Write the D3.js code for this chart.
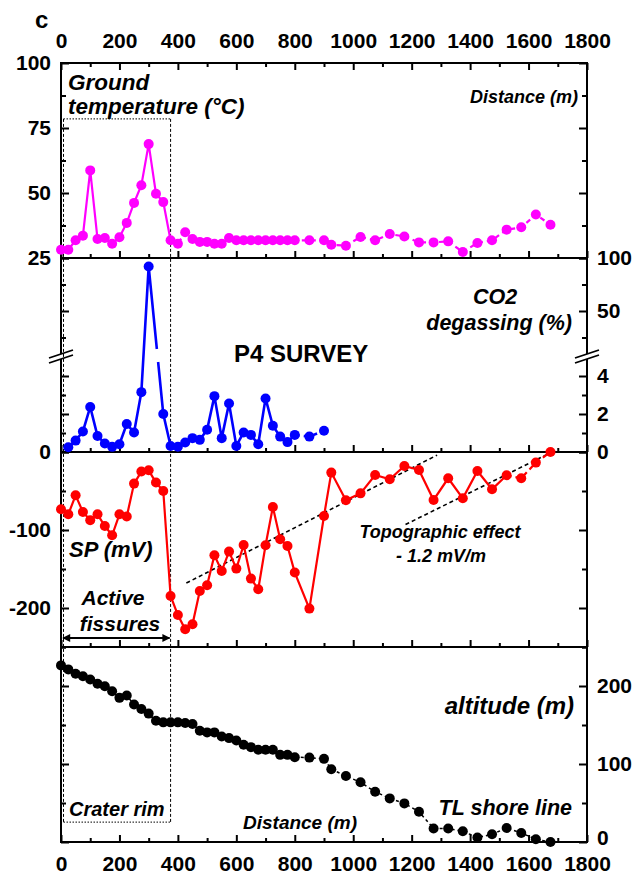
<!DOCTYPE html>
<html>
<head>
<meta charset="utf-8">
<style>
  body { margin: 0; background: #fff; }
  svg text { font-family: "Liberation Sans", Arial, sans-serif; font-weight: bold; fill: #000; }
  .it { font-style: italic; }
  .tick line { stroke: #000; stroke-width: 2; }
</style>
</head>
<body>
<script src="https://cdn.jsdelivr.net/npm/d3@7"></script>
<script>
// distances along the P4 profile (m)
var dist = [0, 25, 50, 75, 100, 125, 150, 175, 200, 225, 250, 275, 300, 325, 350, 375, 400,
  425, 450, 475, 500, 525, 550, 575, 600, 625, 650, 675, 700, 725, 750, 775, 800,
  850, 900, 925, 975, 1025, 1075, 1125, 1175, 1225, 1275, 1325, 1375, 1425, 1475, 1525, 1575, 1625, 1675];

// ground temperature (°C)
var temp = [28.2, 28.2, 31.8, 33.6, 58.7, 32.3, 32.7, 30.5, 33, 38.5, 46.2, 53, 68.8, 49.7, 46.5, 31.8, 30.5,
  34.9, 32.3, 31.2, 31.2, 30.5, 30.5, 32.7, 31.8, 31.8, 31.8, 31.8, 31.8, 31.8, 31.8, 31.8, 31.8,
  31.8, 31.8, 30.1, 29.7, 33.1, 31.8, 34.2, 33.3, 31, 31, 31.4, 27.3, 30.8, 31.8, 35.9, 36.8, 41.7, 37.8];

// CO2 degassing (%) - no station at 0 and 325 m, stops at 900 m
var co2Dist = [25, 50, 75, 100, 125, 150, 175, 200, 225, 250, 275, 300, 350, 375, 400,
  425, 450, 475, 500, 525, 550, 575, 600, 625, 650, 675, 700, 725, 750, 775, 800, 850, 900];
var co2 = [0.25, 0.6, 1.08, 2.37, 0.84, 0.45, 0.27, 0.41, 1.47, 1.03, 3.15, 92, 2.0, 0.32, 0.28,
  0.5, 0.73, 0.64, 1.17, 2.94, 0.73, 2.55, 0.32, 1.03, 0.9, 0.41, 2.82, 1.38, 0.81, 0.52, 0.9, 0.81, 1.12];

// self potential (mV)
var sp = [-73.5, -79.9, -55.5, -76.9, -87.6, -79.9, -94.9, -106.8, -79.9, -82.8, -40.5, -25.1, -23.5, -39.2, -50, -184.6, -209,
  -227.3, -220.9, -178.2, -170.9, -132.4, -152.6, -127.7, -149.5, -119.2, -162.3, -176, -119.6, -70.5, -111.9, -120.5, -154.6,
  -200.8, -82, -26.4, -61.9, -53, -29.5, -35, -17.9, -23.1, -61.5, -33.7, -59.4, -24.4, -47.8, -29.9, -33.7, -13.6, 0];

// altitude (m)
var alt = [226.4, 221.3, 215.7, 212.6, 208.4, 202.8, 199.7, 193.3, 184.8, 187.8, 176.2, 170.6, 164.6, 155.5, 153.4, 153.4, 153.4,
  152.6, 151.3, 142.7, 140.5, 140.5, 135.3, 133.2, 130.2, 124.6, 121.6, 118.2, 118.2, 118.2, 111.7, 111.7, 108.7,
  108.2, 106.6, 93.3, 84.7, 76.5, 64.4, 55.9, 49.5, 38.7, 17.3, 17.3, 13.8, 5.7, 9.9, 18, 11.6, 3.5, 0];

// topographic effect trend lines [distance, mV]
var topo1 = [[429, -168], [1287, -4]];
var topo2 = [[1179, -93], [1680, 0]];

var xMajor = [0, 200, 400, 600, 800, 1000, 1200, 1400, 1600, 1800];
var xMinor = [100, 300, 500, 700, 900, 1100, 1300, 1500, 1700];

var W = 637, H = 876;
var svg = d3.select("body").append("svg").attr("width", W).attr("height", H);

var x = d3.scaleLinear().domain([0, 1800]).range([61, 587]);
var yT = d3.scaleLinear().domain([25, 100]).range([258, 63]);
var yCLo = d3.scaleLinear().domain([0, 4]).range([452, 376]);
var yCHi = d3.scaleLinear().domain([50, 100]).range([311, 258]);
function yC(v) { return v > 6 ? yCHi(v) : yCLo(v); }
var yS = d3.scaleLinear().domain([-250, 0]).range([647, 452]);
var yA = d3.scaleLinear().domain([0, 250]).range([842, 647]);

var L = 61, R = 587, bounds = [63, 258, 452, 647, 842];

// ---- axes
function clean(g) { g.select(".domain").remove(); g.selectAll("text").style("font-size", "21px"); }

function xAxis(y, pos, labels) {
  var major = (pos == "top" ? d3.axisTop(x) : d3.axisBottom(x)).tickValues(xMajor).tickSize(-7)
    .tickPadding(pos == "top" ? 15 : 14).tickFormat(labels ? d3.format("d") : "");
  var minor = (pos == "top" ? d3.axisTop(x) : d3.axisBottom(x)).tickValues(xMinor).tickSize(-4).tickFormat("");
  svg.append("g").attr("transform", "translate(0," + y + ")").call(major).call(clean);
  svg.append("g").attr("transform", "translate(0," + y + ")").call(minor).call(clean);
}
xAxis(63, "top", true);
xAxis(258, "bottom", false);
xAxis(452, "bottom", false);
xAxis(647, "bottom", false);
xAxis(842, "bottom", true);

function yAxis(scale, majors, minors, labelsL, labelsR) {
  var gs = [];
  [["left", L, labelsL], ["right", R, labelsR]].forEach(function (s) {
    var mk = s[0] == "left" ? d3.axisLeft : d3.axisRight;
    gs.push(svg.append("g").attr("transform", "translate(" + s[1] + ",0)")
      .call(mk(scale).tickValues(majors).tickSize(-8).tickPadding(10)
        .tickFormat(function (d) { return s[2].indexOf(d) >= 0 ? d : ""; }))
      .call(clean));
    svg.append("g").attr("transform", "translate(" + s[1] + ",0)")
      .call(mk(scale).tickValues(minors).tickSize(-5).tickFormat(""))
      .call(clean);
  });
  return gs;
}
yAxis(yT, [25, 50, 75, 100], [37.5, 62.5, 87.5], [25, 50, 75, 100], []);
yAxis(yCHi, [50, 100], [25, 75], [], [50, 100]);
yAxis(yCLo, [0, 2, 4], [1, 3], [], [0, 2, 4]);
yAxis(yS, [-200, -100, 0], [-250, -150, -50], [-200, -100, 0], []);
var altAx = yAxis(yA, [0, 100, 200], [50, 150, 250], [], [0, 100, 200]);
// lift the right "0" a little so it clears the bottom "1800"
altAx[1].selectAll(".tick").filter(function (d) { return d === 0; }).select("text").attr("dy", "0.1em");

// frame
svg.append("rect").attr("x", L).attr("y", 63).attr("width", R - L).attr("height", 842 - 63)
  .attr("fill", "none").attr("stroke", "#000").attr("stroke-width", 2);
bounds.slice(1, 4).forEach(function (b) {
  svg.append("line").attr("x1", L).attr("x2", R).attr("y1", b).attr("y2", b)
    .attr("stroke", "#000").attr("stroke-width", 2);
});

// axis breaks on CO2 panel
[L, R].forEach(function (ax) {
  var yb = 355;
  svg.append("polygon").attr("points", [[ax - 12, yb + 3], [ax + 12, yb - 5], [ax + 12, yb], [ax - 12, yb + 8]].join(" "))
    .attr("fill", "#fff");
  svg.append("line").attr("x1", ax - 12).attr("y1", yb + 3).attr("x2", ax + 12).attr("y2", yb - 5)
    .attr("stroke", "#000").attr("stroke-width", 1.8);
  svg.append("line").attr("x1", ax - 12).attr("y1", yb + 8).attr("x2", ax + 12).attr("y2", yb)
    .attr("stroke", "#000").attr("stroke-width", 1.8);
});

// dashed box (active zone / crater rim)
var bx0 = x(0) + 2.5, bx1 = x(375), by0 = yT(78.5), by1 = yA(25.5);
svg.append("line").attr("x1", bx0).attr("x2", bx1).attr("y1", by0).attr("y2", by0)
  .attr("stroke", "#000").attr("stroke-width", 1).attr("stroke-dasharray", "1.5,1.5");
svg.append("line").attr("x1", bx0).attr("x2", bx1).attr("y1", by1).attr("y2", by1)
  .attr("stroke", "#000").attr("stroke-width", 1).attr("stroke-dasharray", "1.5,1.5");
[bx0, bx1].forEach(function (bx) {
  svg.append("line").attr("x1", bx).attr("x2", bx).attr("y1", by0).attr("y2", by1)
    .attr("stroke", "#000").attr("stroke-width", 1).attr("stroke-dasharray", "3,2");
});

// topographic trend lines
var line = d3.line().x(function (d) { return x(d[0]); }).y(function (d) { return yS(d[1]); });
[topo1, topo2].forEach(function (t) {
  svg.append("path").attr("d", line(t)).attr("fill", "none").attr("stroke", "#000")
    .attr("stroke-width", 1.6).attr("stroke-dasharray", "4,3");
});

// ---- series
function series(xs, ys, ysc, color, dashFrom, lw, dash) {
  var pts = xs.map(function (d, i) { return [x(d), ysc(ys[i])]; });
  var ln = d3.line();
  var g = svg.append("g");
  g.append("path").attr("d", ln(pts.slice(0, dashFrom + 1))).attr("fill", "none")
    .attr("stroke", color).attr("stroke-width", lw);
  if (dashFrom < pts.length - 1)
    g.append("path").attr("d", ln(pts.slice(dashFrom))).attr("fill", "none")
      .attr("stroke", color).attr("stroke-width", lw).attr("stroke-dasharray", dash);
  g.selectAll("circle").data(pts).enter().append("circle")
    .attr("cx", function (d) { return d[0]; }).attr("cy", function (d) { return d[1]; })
    .attr("r", 5).attr("fill", color);
  return pts;
}

series(dist, temp, yT, "#ff00ff", 15, 2.2, "5,4");
var cp = series(co2Dist, co2, yC, "#0000ff", 30, 2.6, "5,4");
// gap in the descending line where it crosses the axis break
(function () {
  var a = cp[11], b = cp[12];
  function at(y) { var t = (y - a[1]) / (b[1] - a[1]); return [a[0] + t * (b[0] - a[0]), y]; }
  var p = at(349), q = at(362);
  svg.append("line").attr("x1", p[0]).attr("y1", p[1]).attr("x2", q[0]).attr("y2", q[1])
    .attr("stroke", "#fff").attr("stroke-width", 5);
})();
series(dist, sp, yS, "#ff0000", 47, 2.2, "5,4");
series(dist, alt, yA, "#000000", 32, 1.5, "3,3");

// active fissures arrow
var defs = svg.append("defs");
defs.append("marker").attr("id", "ah").attr("viewBox", "0 0 10 10").attr("refX", 9).attr("refY", 5)
  .attr("markerWidth", 5).attr("markerHeight", 4).attr("orient", "auto-start-reverse")
  .attr("markerUnits", "strokeWidth")
  .append("path").attr("d", "M0,0 L10,5 L0,10 Z").attr("fill", "#000");
svg.append("line").attr("x1", x(0) + 2).attr("x2", x(375) - 1).attr("y1", 638).attr("y2", 638)
  .attr("stroke", "#000").attr("stroke-width", 2)
  .attr("marker-start", "url(#ah)").attr("marker-end", "url(#ah)");

// ---- texts
function txt(s, px, py, size, italic, anchor) {
  svg.append("text").attr("x", px).attr("y", py).attr("class", italic ? "it" : null)
    .style("font-size", size + "px").attr("text-anchor", anchor || "start").text(s);
}
txt("c", 35, 28, 24, false);
txt("Ground", 68, 90, 22.5, true);
txt("temperature (°C)", 68, 114, 22.5, true);
txt("Distance (m)", 578, 103, 18, true, "end");
txt("CO2", 495, 304, 21.5, true, "middle");
txt("degassing (%)", 572, 330, 21.5, true, "end");
txt("P4 SURVEY", 234, 362, 24, false);
txt("SP (mV)", 69, 557, 22, true);
txt("Active", 113, 605, 21, true, "middle");
txt("fissures", 120, 631, 21, true, "middle");
txt("Topographic effect", 440, 538, 18, true, "middle");
txt("- 1.2 mV/m", 441, 562, 18, true, "middle");
txt("altitude (m)", 574, 714, 24, true, "end");
txt("Crater rim", 69, 816, 20, true);
txt("Distance (m)", 300, 829, 19, true, "middle");
txt("TL shore line", 572, 815, 21.5, true, "end");
</script>
</body>
</html>
